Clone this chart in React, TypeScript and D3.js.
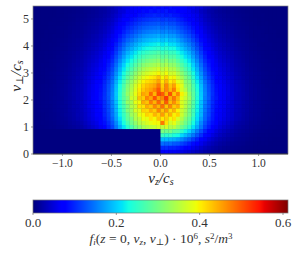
import React from "react";
import { scaleLinear, range } from "d3";

const width = 299;
const height = 256;

const vzTicks = [-1.0, -0.5, 0.0, 0.5, 1.0];
const vperpTicks = [0, 1, 2, 3, 4, 5];
const cbarTicks = [0.0, 0.2, 0.4, 0.6];
const vzBinWidth = 2.6 / 66;
const vperpBinHeight = 0.92 / 6;

// the empty corner: v_z < 0 and v_perp < 0.92
const emptyHalf = new Array(33).fill(0);

// f_i, in 1e-3 units, top row first (66 v_z bins, 36 v_perp bins)
const fGrid: number[][] = [
  [0,0,1,1,1,1,2,2,2,3,4,5,5,8,8,11,12,15,17,23,25,35,40,50,53,62,64,72,72,79,76,83,78, 82,77,81,72,75,66,64,55,57,46,44,33,28,21,19,15,12,10,9,7,6,5,4,3,3,2,2,1,1,1,1,0,0],
  [0,1,1,1,1,1,2,2,3,3,4,5,6,8,9,11,13,16,18,23,29,34,45,49,60,62,72,72,81,79,86,82,88, 84,89,80,82,76,72,65,62,52,47,36,30,23,20,15,13,11,9,8,6,5,4,3,3,2,2,1,1,1,1,1,0,0],
  [0,1,1,1,1,1,2,2,3,4,5,6,7,8,11,12,14,17,21,25,32,40,48,58,65,72,77,85,87,92,93,98,94, 96,91,95,88,86,80,76,66,60,55,42,34,27,21,18,15,13,11,9,7,6,5,4,3,2,2,2,1,1,1,1,0,0],
  [1,1,1,1,1,2,2,3,3,4,5,7,8,10,12,14,17,20,24,30,36,46,57,66,75,83,90,97,102,105,108,110,113, 107,112,106,106,97,90,82,76,65,56,47,36,30,24,20,17,14,12,10,8,7,5,4,3,3,2,2,1,1,1,1,1,0],
  [1,1,1,1,2,2,2,3,4,5,6,8,9,11,14,16,19,23,27,34,41,53,63,75,86,94,103,110,116,120,123,125,128, 122,127,120,120,110,103,94,86,75,63,52,41,34,27,22,19,16,14,11,9,7,6,5,4,3,2,2,2,1,1,1,1,1],
  [1,1,1,1,2,2,3,4,4,6,7,8,10,13,15,18,21,25,31,38,46,59,71,84,97,105,115,123,130,134,137,140,144, 136,142,135,134,124,115,105,97,84,71,58,46,38,31,25,21,18,15,13,10,8,7,6,4,4,3,3,2,2,1,1,1,1],
  [1,1,1,2,2,2,3,4,5,6,8,9,11,14,17,20,23,28,34,42,51,65,79,93,107,116,127,136,144,149,152,155,158, 152,157,150,148,137,127,116,107,93,79,65,51,42,34,28,23,20,17,14,11,9,8,6,5,4,4,3,2,2,2,1,1,1],
  [1,1,1,2,2,3,3,4,5,7,9,10,12,16,19,23,26,32,39,47,58,74,89,105,121,131,143,154,163,168,171,175,180, 172,178,169,168,155,143,131,121,105,89,74,58,47,39,32,26,23,19,16,12,10,9,7,5,4,4,3,3,2,2,1,1,1],
  [1,1,2,2,2,3,4,5,6,8,10,12,14,18,21,25,29,35,43,53,64,82,99,117,135,146,160,172,181,187,191,195,200, 190,199,186,188,174,160,146,135,117,99,82,64,53,43,35,29,25,21,18,14,12,10,8,6,5,4,4,3,2,2,2,1,1],
  [1,1,2,2,3,3,4,6,7,9,11,13,15,20,24,29,33,40,48,59,73,92,112,132,152,165,180,194,205,211,216,220,226, 214,224,212,210,196,180,165,152,132,112,92,73,59,48,40,33,29,24,20,15,13,11,9,7,6,4,3,3,3,2,2,1,1],
  [1,1,2,2,3,4,5,6,7,10,12,14,17,22,26,31,36,43,53,65,79,101,122,144,166,180,197,211,223,230,235,240,246, 234,244,230,230,214,197,180,166,144,122,101,79,65,53,43,36,31,26,22,17,14,12,10,7,6,5,4,3,3,2,2,1,1],
  [1,2,2,3,3,4,5,7,8,11,13,16,19,24,29,34,40,48,58,72,87,111,135,159,183,199,217,233,246,254,260,265,272, 258,268,255,254,236,217,199,183,159,135,111,87,72,58,48,40,34,29,24,19,16,13,11,8,7,5,4,3,3,3,2,2,1],
  [1,2,2,3,3,4,6,7,9,11,14,17,20,26,31,37,43,51,63,77,94,120,145,171,197,214,234,251,265,274,279,285,292, 278,290,272,274,254,234,214,197,171,145,120,94,77,63,51,43,37,31,26,20,17,14,11,9,7,6,4,3,3,3,2,2,1],
  [2,2,2,3,4,5,6,8,9,12,15,19,22,28,34,40,46,56,68,84,102,130,158,186,214,232,254,273,288,298,304,310,318, 300,316,296,298,276,254,232,214,186,158,130,102,84,68,56,46,40,34,28,22,19,15,12,9,8,6,5,4,3,3,2,2,2],
  [2,2,3,3,4,5,7,8,10,13,17,20,23,30,37,44,50,60,74,90,111,141,171,201,231,251,275,295,312,322,328,335,344, 325,340,322,320,298,275,251,231,201,171,141,111,90,74,60,50,44,37,30,23,20,17,13,10,8,7,5,4,4,3,3,2,2],
  [2,2,3,4,4,5,7,9,11,14,18,22,25,32,40,47,54,65,79,97,119,151,184,216,248,270,295,317,335,346,353,360,370, 350,366,346,344,320,295,270,248,216,184,151,119,97,79,65,54,47,40,32,25,22,18,14,11,9,7,5,4,4,4,3,2,2],
  [2,2,3,4,5,6,8,10,12,15,19,23,27,35,42,50,58,69,85,104,127,162,196,231,266,289,316,339,358,370,377,385,396, 372,392,366,368,342,316,289,266,231,196,162,127,104,85,69,58,50,42,35,27,23,19,15,12,10,8,6,5,4,4,3,2,2],
  [2,2,3,4,5,6,8,10,12,16,20,25,29,37,45,53,62,74,90,111,135,172,209,246,283,308,336,361,381,394,402,410,430, 396,418,392,396,364,336,308,283,246,209,172,135,111,90,74,62,53,45,37,29,25,20,16,12,10,8,6,5,4,4,3,2,2],
  [2,3,3,4,5,6,9,11,13,17,22,26,30,39,47,56,65,77,95,116,142,181,219,258,297,323,353,378,400,413,421,430,452, 408,440,404,420,380,365,315,300,258,219,181,142,116,95,77,65,56,47,39,30,26,22,17,13,11,9,6,5,5,4,3,3,2],
  [2,3,4,5,5,7,9,11,14,18,23,27,32,40,50,59,68,81,99,122,149,189,230,270,310,338,369,396,418,432,441,450,480, 425,470,430,452,405,380,325,310,270,230,189,149,122,99,81,68,59,50,40,32,27,23,18,14,11,9,7,5,5,4,4,3,2],
  [3,3,4,5,6,7,9,12,14,18,23,28,32,41,51,60,69,83,101,124,152,193,235,276,317,345,377,405,428,442,451,470,500, 436,470,440,475,415,372,345,305,276,235,193,152,124,101,83,69,60,51,41,32,28,23,18,14,12,9,7,6,5,4,4,3,2],
  [3,3,4,5,6,7,9,12,14,19,24,28,33,42,52,61,71,85,103,127,155,197,240,282,324,353,385,414,450,440,490,440,510, 500,445,505,430,470,400,372,320,282,240,197,155,127,103,85,71,61,52,42,33,28,24,19,14,12,9,7,6,5,4,4,3,2],
  [3,3,4,5,6,8,9,11,15,19,23,29,33,43,51,63,70,86,105,125,158,195,243,280,310,368,370,430,425,470,450,505,450, 470,520,445,480,440,385,360,330,285,236,200,152,130,100,88,69,62,50,44,32,29,23,20,14,12,9,7,6,5,4,4,3,2],
  [2,3,4,5,6,7,9,11,14,18,23,28,32,41,51,60,69,83,101,124,152,193,235,276,325,338,385,395,445,430,475,440,490, 440,500,435,465,430,375,352,318,276,235,193,152,124,101,83,69,60,51,41,32,28,23,18,14,11,9,7,6,5,4,4,3,2],
  [2,3,4,5,5,7,9,12,13,18,24,26,33,40,52,58,70,80,102,120,152,186,234,266,305,345,360,410,410,445,430,470,440, 485,430,470,425,445,380,345,312,274,226,192,146,125,96,83,66,60,48,42,31,28,22,18,14,11,9,7,5,5,4,4,3,2],
  [2,3,4,4,5,7,9,11,13,18,22,26,31,40,48,57,66,79,97,119,145,185,224,264,310,330,375,380,420,415,445,425,470, 430,460,415,440,400,365,340,300,264,224,185,145,119,97,79,66,57,48,40,31,26,22,18,13,11,9,7,5,5,4,4,3,2],
  [2,2,3,4,5,6,8,11,14,17,21,27,30,38,48,55,66,76,96,114,144,178,222,254,290,330,345,385,395,420,410,440,420, 455,415,440,400,420,365,330,300,262,215,184,138,118,92,79,63,57,46,40,29,27,21,17,13,11,9,6,5,5,4,3,3,2],
  [2,2,3,4,5,6,8,10,12,16,20,25,29,37,45,53,62,74,90,111,135,172,209,246,285,305,345,355,390,385,410,395,430, 405,425,395,410,375,345,310,285,246,209,172,135,111,90,74,62,53,45,37,29,25,20,16,12,10,8,6,5,4,4,3,2,2],
  [2,2,3,3,4,5,7,9,10,14,17,20,24,32,40,48,55,68,84,102,125,158,195,232,268,295,320,345,360,375,385,395,395, 480,410,370,385,350,325,295,270,232,195,158,125,102,84,68,55,48,40,32,24,20,17,14,10,9,7,5,4,4,3,3,2,2],
  [1,2,2,3,4,4,6,7,9,12,14,17,20,27,34,41,49,60,75,93,115,148,180,214,245,270,295,315,335,345,355,360,375, 355,370,345,350,325,295,272,245,214,180,148,115,93,75,60,49,41,34,27,20,17,14,12,9,7,6,4,4,3,3,2,2,2],
  [...emptyHalf, 305,295,300,280,275,250,225,205,178,150,124,97,78,63,50,41,34,28,22,17,14,12,10,8,6,5,4,3,3,2,2,2,1],
  [...emptyHalf, 255,245,250,235,228,208,188,170,148,125,103,80,65,52,42,34,28,23,19,14,12,10,8,6,5,4,3,3,2,2,2,1,1],
  [...emptyHalf, 190,188,184,180,170,158,142,130,112,95,78,62,50,40,32,26,22,18,14,11,9,8,6,5,4,3,3,2,2,1,1,1,1],
  [...emptyHalf, 142,136,138,130,126,116,106,94,82,70,58,46,37,30,24,19,16,13,10,8,7,6,4,4,3,2,2,2,1,1,1,1,1],
  [...emptyHalf, 100,102,96,96,90,84,76,68,58,50,41,33,27,21,17,14,11,9,7,6,5,4,3,3,2,2,1,1,1,1,1,1,0],
  [...emptyHalf, 64,66,62,62,58,54,48,44,38,32,27,21,17,14,11,9,7,6,5,4,3,3,2,2,1,1,1,1,1,0,0,0,0],
];

// matplotlib jet, one piecewise scale per channel
const jetR = scaleLinear<number>().domain([0, 0.35, 0.66, 0.89, 1]).range([0, 0, 1, 1, 0.5]);
const jetG = scaleLinear<number>().domain([0, 0.125, 0.375, 0.64, 0.91, 1]).range([0, 0, 1, 1, 0, 0]);
const jetB = scaleLinear<number>().domain([0, 0.11, 0.34, 0.65, 1]).range([0.5, 1, 1, 0, 0]);
const jet = (t: number) =>
  `rgb(${Math.round(jetR(t) * 255)},${Math.round(jetG(t) * 255)},${Math.round(jetB(t) * 255)})`;

const fMax = 0.612;
const serif = "'Liberation Serif', 'DejaVu Serif', serif";

const App = () => {
  const x = scaleLinear().domain([-1.3, 1.3]).range([33, 288]);
  const y = scaleLinear().domain([0, 5.48]).range([154, 6]);
  const cx = scaleLinear().domain([0, fMax]).range([33, 288]);
  const color = (v: number) => jet(Math.min(1, v / fMax));
  const nRows = fGrid.length;

  return (
    <svg
      width={width}
      height={height}
      style={{ position: "absolute", left: 0, top: 0 }}
      fontFamily={serif}
    >
      <rect width={width} height={height} fill="#fff" />
      <clipPath id="plot">
        <rect x={33} y={6} width={255} height={148} />
      </clipPath>
      <rect x={33} y={6} width={255} height={148} fill={jet(0)} />
      <g clipPath="url(#plot)">
        {fGrid.map((row, r) =>
          row.map((v, c) => {
            const vz0 = -1.3 + c * vzBinWidth;
            const vp0 = (nRows - 1 - r) * vperpBinHeight;
            return (
              <rect
                key={`${r}-${c}`}
                x={x(vz0)}
                y={y(vp0 + vperpBinHeight)}
                width={x(vz0 + vzBinWidth) - x(vz0) + 0.3}
                height={y(vp0) - y(vp0 + vperpBinHeight) + 0.3}
                fill={color(v / 1000)}
              />
            );
          })
        )}
      </g>
      <rect x={33} y={6} width={255} height={148} fill="none" stroke="#888" strokeWidth={0.7} />
      <line x1={33} x2={288} y1={154} y2={154} stroke="#111" strokeWidth={0.7} />

      {vzTicks.map((t) => (
        <g key={t}>
          <line x1={x(t)} x2={x(t)} y1={154} y2={156} stroke="#555" strokeWidth={0.6} />
          <text x={x(t)} y={167} textAnchor="middle" fontSize={11.5} fill="#333">
            {(t < 0 ? "\u2212" : "") + Math.abs(t).toFixed(1)}
          </text>
        </g>
      ))}
      {vperpTicks.map((t) => (
        <g key={t}>
          <line x1={31} x2={33} y1={y(t)} y2={y(t)} stroke="#555" strokeWidth={0.6} />
          <text x={29} y={y(t) + 4} textAnchor="end" fontSize={12} fill="#333">
            {t}
          </text>
        </g>
      ))}

      <text x={161} y={183} textAnchor="middle" fontSize={15} fontStyle="italic" fill="#222">
        v<tspan fontSize={10} dy={2}>z</tspan>
        <tspan dy={-2}>/c</tspan>
        <tspan fontSize={10} dy={2}>s</tspan>
      </text>
      <text
        transform="translate(21,76) rotate(-90)"
        textAnchor="middle"
        fontSize={15.5}
        fontStyle="italic"
        fill="#222"
      >
        v<tspan fontSize={10} dy={2} fontStyle="normal">{"\u22A5"}</tspan>
        <tspan dy={-2}>/c</tspan>
        <tspan fontSize={10} dy={2}>s</tspan>
      </text>

      {range(0, 255).map((i) => (
        <rect
          key={i}
          x={33 + i}
          y={200}
          width={1.2}
          height={13}
          fill={jet(i / 254)}
          shapeRendering="crispEdges"
        />
      ))}
      <rect x={33} y={200} width={255} height={13} fill="none" stroke="#777" strokeWidth={0.7} />
      {cbarTicks.map((t) => (
        <g key={t}>
          <line x1={cx(t)} x2={cx(t)} y1={213} y2={215} stroke="#555" strokeWidth={0.6} />
          <text x={cx(t)} y={227} textAnchor="middle" fontSize={13} fill="#333">
            {t.toFixed(1)}
          </text>
        </g>
      ))}
      <text x={161} y={243} textAnchor="middle" fontSize={13.5} fill="#333">
        <tspan fontStyle="italic">f</tspan>
        <tspan fontStyle="italic" fontSize={9} dy={2}>i</tspan>
        <tspan dy={-2}>(</tspan>
        <tspan fontStyle="italic">z</tspan>
        <tspan> = 0, </tspan>
        <tspan fontStyle="italic">v</tspan>
        <tspan fontStyle="italic" fontSize={9} dy={2}>z</tspan>
        <tspan dy={-2}>, </tspan>
        <tspan fontStyle="italic">v</tspan>
        <tspan fontSize={9} dy={2}>{"\u22A5"}</tspan>
        <tspan dy={-2}>) · 10</tspan>
        <tspan fontSize={9} dy={-4}>6</tspan>
        <tspan dy={4}>, </tspan>
        <tspan fontStyle="italic">s</tspan>
        <tspan fontSize={9} dy={-4}>2</tspan>
        <tspan dy={4}>/</tspan>
        <tspan fontStyle="italic">m</tspan>
        <tspan fontSize={9} dy={-4}>3</tspan>
      </text>
    </svg>
  );
};

export default App;
